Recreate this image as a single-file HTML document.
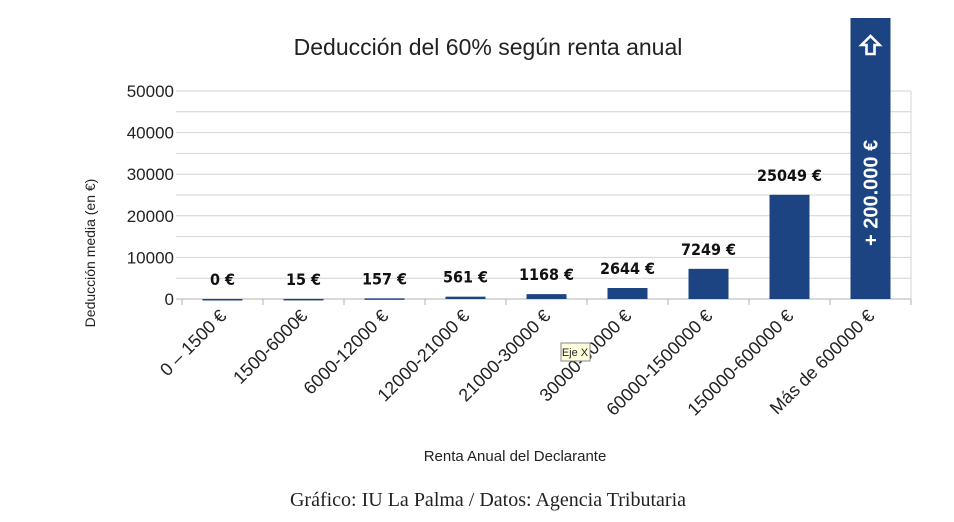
<!DOCTYPE html>
<html><head><meta charset="utf-8"><style>
body{margin:0;background:#fff;width:954px;height:517px;overflow:hidden}
svg{font-family:"Liberation Sans",sans-serif}
</style></head><body>
<svg id="chart" width="954" height="517">
<text x="488" y="55" text-anchor="middle" font-size="23" fill="#222">Deducción del 60% según renta anual</text>
<g id="grid"></g><g id="bars"></g><g id="xlabels"></g>
<text transform="translate(95,253) rotate(-90)" text-anchor="middle" font-size="14" fill="#222">Deducción media  (en €)</text>
<text x="515" y="461" text-anchor="middle" font-size="15" fill="#222">Renta Anual del Declarante</text>
<text x="488" y="506" text-anchor="middle" font-size="20" font-family="Liberation Serif,serif" fill="#222">Gráfico: IU La Palma / Datos: Agencia Tributaria</text>
<g id="tip"></g>
</svg>
<script>
const categories=["0 – 1500 €","1500-6000€","6000-12000 €","12000-21000 €","21000-30000 €","30000-60000 €","60000-1500000 €","150000-600000 €","Más de 600000 €"];
const values=[0,15,157,561,1168,2644,7249,25049,200000];
const valueLabels=["0 €","15 €","157 €","561 €","1168 €","2644 €","7249 €","25049 €","+ 200.000 €"];
const yTicks=[0,10000,20000,30000,40000,50000];
const NS="http://www.w3.org/2000/svg";
const x0=182,x1=911,yBase=299,yTop=91,yMax=50000;
const bw=(x1-x0)/categories.length;
const y=v=>Math.max(18,yBase-(v/yMax)*(yBase-yTop));
const xc=i=>x0+bw*(i+0.5);
function mk(tag,attrs,parent){const e=document.createElementNS(NS,tag);for(const k in attrs)e.setAttribute(k,attrs[k]);parent.appendChild(e);return e;}
const grid=document.getElementById('grid'),bars=document.getElementById('bars'),xl=document.getElementById('xlabels'),tip=document.getElementById('tip');
for(let v=0;v<=yMax;v+=5000){const l=mk('line',{x1:x0-6,x2:x1,y1:y(v),y2:y(v),stroke:v===0?'#b3b3b3':'#d4d4d4','stroke-width':1},grid);

}
mk('line',{x1:x1,x2:x1,y1:yTop,y2:yBase+6,stroke:'#d4d4d4'},grid);
yTicks.forEach(v=>{const t=mk('text',{x:x0-8,y:y(v)+6,'text-anchor':'end','font-size':17,fill:'#222'},grid);t.textContent=v;

});
for(let i=0;i<=categories.length;i++){mk('line',{x1:x0+bw*i,x2:x0+bw*i,y1:yBase,y2:yBase+6,stroke:'#b3b3b3'},grid);}
values.forEach((v,i)=>{
const top=y(v);
const r=mk('rect',{x:xc(i)-20,y:top,width:40,height:Math.max(1.5,yBase-top),fill:'#1c4482'},bars);


if(i<values.length-1){
const t=mk('text',{x:xc(i),y:Math.min(top,yBase)-14,'text-anchor':'middle','font-size':16,'font-weight':'bold','font-family':'DejaVu Sans Condensed,DejaVu Sans,sans-serif',fill:'#111'},bars);t.textContent=valueLabels[i];


}else{
const t=mk('text',{transform:`translate(${xc(i)+7},${yBase-53}) rotate(-90)`,'text-anchor':'start','font-size':20,'font-weight':'bold',fill:'#fff'},bars);t.textContent=valueLabels[i];


const a=mk('path',{d:`M${xc(i)} 36 l-9 9 h5 v9 h8 v-9 h5 z`,fill:'none',stroke:'#fff','stroke-width':2.6},bars);


}
const c=mk('text',{transform:`translate(${xc(i)+5},${yBase+18}) rotate(-45)`,'text-anchor':'end','font-size':18,fill:'#222'},xl);c.textContent=categories[i];


});
const tr=mk('rect',{x:561,y:343,width:29,height:18,fill:'#ffffdd',stroke:'#888'},tip);


const tt=mk('text',{x:575,y:356,'text-anchor':'middle','font-size':11,fill:'#222'},tip);tt.textContent="Eje X";


</script>
</body></html>
